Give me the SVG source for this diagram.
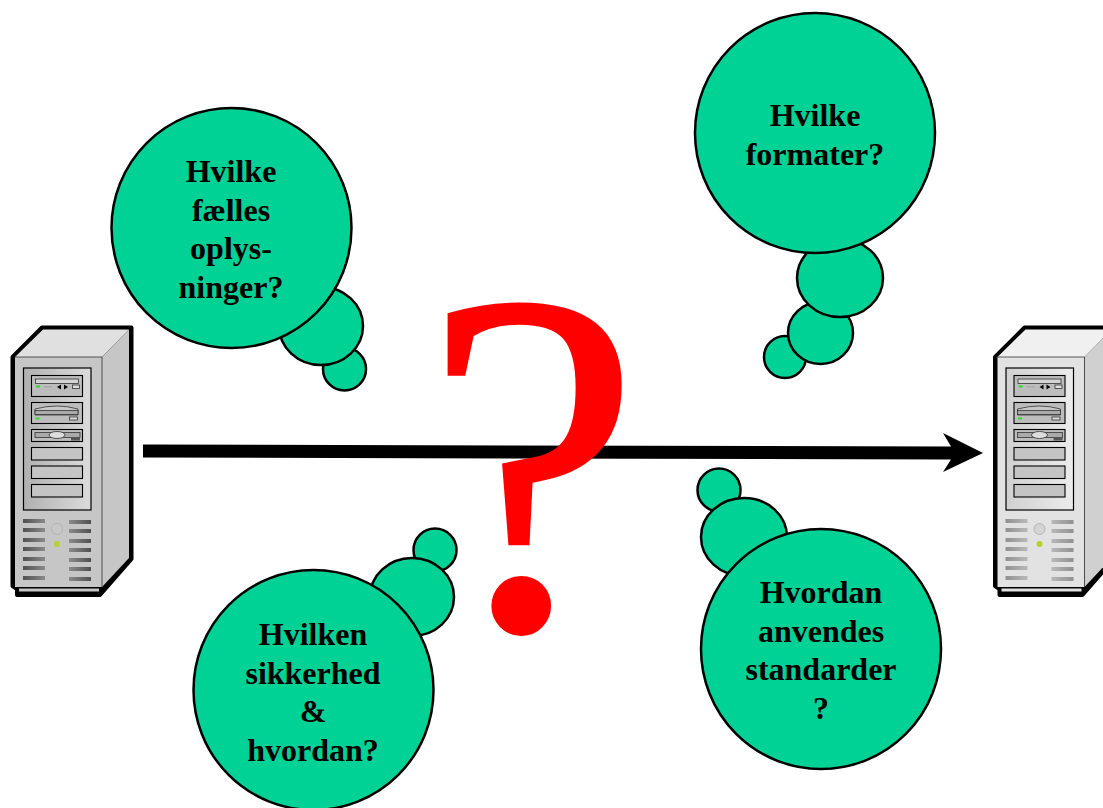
<svg xmlns="http://www.w3.org/2000/svg" width="1103" height="808" viewBox="0 0 1103 808">
<style>
.b{fill:#00d296;stroke:#000;stroke-width:2.5}
.t{font-family:"Liberation Serif","Times New Roman",serif;font-weight:bold;font-size:32px;fill:#000;text-anchor:middle}
.l{stroke:#000;stroke-width:1.1}
.s{stroke:#333;stroke-width:.8}
.v{opacity:var(--vent)}
</style>
<defs>
<linearGradient id="bezL" x1="0" x2="1" y1="0" y2="0"><stop offset="0" stop-color="#b0b0b0"/><stop offset="1" stop-color="#dcdcdc"/></linearGradient>
<linearGradient id="bezR" x1="0" x2="1" y1="0" y2="0"><stop offset="0" stop-color="#d0d0d0"/><stop offset="1" stop-color="#ececec"/></linearGradient>
<linearGradient id="vl" x1="0" x2="1" y1="0" y2="0"><stop offset="0" stop-color="#000" stop-opacity=".6"/><stop offset="1" stop-color="#000" stop-opacity=".3"/></linearGradient>
<linearGradient id="vr" x1="0" x2="1" y1="0" y2="0"><stop offset="0" stop-color="#000" stop-opacity=".3"/><stop offset="1" stop-color="#000" stop-opacity=".6"/></linearGradient>
<symbol id="server" overflow="visible" width="125" height="275" viewBox="0 0 125 275">
<g transform="translate(0,-325)">
<path d="M12.500 357L42 327.500H131.500V559L100 595H17V589L12.500 586Z" fill="#000" stroke="#000" stroke-width="4" stroke-linejoin="round"/>
<path d="M15 357L43 329.500H129L102 357Z" style="fill:var(--top)"/>
<path d="M102 357L129 329.500V558L102 587Z" style="fill:var(--side)"/>
<rect x="15" y="357" width="87" height="230" style="fill:var(--face)"/>
<path d="M15 357H102V587" fill="none" stroke="#333" stroke-width=".8"/>
<rect x="19" y="588.500" width="80" height="3" style="fill:var(--face)"/>
<rect x="23.500" y="368" width="67.500" height="142" style="fill:var(--bez)" stroke="#000" stroke-width="1.200"/>
<rect x="31.500" y="375.500" width="51" height="21" fill="#bdbdbd" class="l"/>
<rect x="35.500" y="379" width="43" height="4.500" fill="#d4d4d4" class="s"/>
<rect x="36" y="385.500" width="4" height="2" fill="#22e022"/>
<rect x="44" y="386" width="8" height="1.500" fill="#aaa"/>
<path d="M57 387L61 384.500V389.500ZM68 387L64 384.500V389.500Z" fill="#000"/>
<rect x="72.500" y="385" width="7" height="3.500" fill="#ddd" class="s"/>
<rect x="31.500" y="402.500" width="51" height="21" fill="#bdbdbd" class="l"/>
<path d="M35 409Q57 403 78 409V415H35Z" fill="#c8c8c8" class="s"/>
<rect x="35" y="410.500" width="43" height="4" fill="#aaa" class="s"/>
<rect x="35.500" y="417.500" width="4" height="2" fill="#22e022"/>
<rect x="69.500" y="417" width="8" height="3" fill="#ddd" class="s"/>
<rect x="31.500" y="429.500" width="51" height="12" fill="#bdbdbd" class="l"/>
<rect x="35" y="432.500" width="45" height="5" fill="#aaa" class="s"/>
<ellipse cx="57" cy="435" rx="8" ry="3.500" fill="#ddd" class="s"/>
<rect x="71" y="437" width="9" height="3.500" fill="#555"/>
<rect x="31.500" y="447.500" width="51" height="12.500" fill="#c4c4c4" class="l"/>
<rect x="31.500" y="466" width="51" height="12.500" fill="#c4c4c4" class="l"/>
<rect x="31.500" y="484.500" width="51" height="12.500" fill="#c4c4c4" class="l"/>
<g class="v" fill="url(#vl)">
<rect x="23" y="519" width="22" height="4"/><rect x="23" y="528" width="22" height="4"/><rect x="23" y="538" width="22" height="4"/><rect x="23" y="547" width="22" height="4"/><rect x="23" y="557" width="22" height="4"/><rect x="23" y="566" width="22" height="4"/><rect x="23" y="576" width="22" height="4"/>
</g>
<g class="v" fill="url(#vr)">
<rect x="69" y="520" width="22" height="4"/><rect x="69" y="529" width="22" height="4"/><rect x="69" y="539" width="22" height="4"/><rect x="69" y="548" width="22" height="4"/><rect x="69" y="558" width="22" height="4"/><rect x="69" y="567" width="22" height="4"/><rect x="69" y="577" width="22" height="4"/>
</g>
<circle cx="57" cy="529" r="5.500" style="fill:var(--knob)" stroke="#b4b4b4" stroke-width="1"/>
<circle cx="57" cy="544" r="3" fill="#b4d232"/>
</g>
</symbol>
</defs>
<g id="server-left" style="--top:#e0e0e0;--side:#c6c6c6;--face:#c6c6c6;--bez:url(#bezL);--vent:1;--knob:#c8c8c8"><use href="#server" x="0" y="325"/></g>
<g id="server-right" style="--top:#f0f0f0;--side:#d0d0d0;--face:#e2e2e2;--bez:url(#bezR);--vent:.6;--knob:#d4d4d4"><use href="#server" x="982.500" y="325"/></g>
<g id="connectors"><polygon points="143,444.500 143,457.500 951,459.500 943,472 983,453 943,433 951,446.500" fill="#000"/></g>
<g id="question"><text x="532" y="628" font-family="Liberation Serif,Times New Roman,serif" font-size="490" text-anchor="middle" fill="#f00" stroke="#f00" stroke-width="2">?</text></g>
<g id="bubble-faelles">
<circle class="b" cx="344.500" cy="369" r="21.500"/><ellipse class="b" cx="321" cy="326" rx="42" ry="39"/><circle class="b" cx="231.500" cy="228" r="120"/>
<text class="t"><tspan x="231" y="182">Hvilke</tspan><tspan x="231" y="220.500">fælles</tspan><tspan x="231" y="259">oplys-</tspan><tspan x="231" y="297.500">ninger?</tspan></text>
</g>
<g id="bubble-formater">
<circle class="b" cx="785" cy="357" r="21"/><ellipse class="b" cx="820.500" cy="333" rx="32.500" ry="31"/><ellipse class="b" cx="840" cy="278" rx="43" ry="39"/><circle class="b" cx="815" cy="133" r="120"/>
<text class="t"><tspan x="815" y="126">Hvilke</tspan><tspan x="815" y="164.500">formater?</tspan></text>
</g>
<g id="bubble-sikkerhed">
<circle class="b" cx="435" cy="550" r="21.500"/><ellipse class="b" cx="412" cy="597" rx="42" ry="39"/><circle class="b" cx="313.500" cy="690" r="120"/>
<text class="t"><tspan x="313" y="645">Hvilken</tspan><tspan x="313" y="683.500">sikkerhed</tspan><tspan x="313" y="722">&amp;</tspan><tspan x="313" y="760.500">hvordan?</tspan></text>
</g>
<g id="bubble-standarder">
<circle class="b" cx="719" cy="490" r="21.500"/><ellipse class="b" cx="744" cy="537" rx="43" ry="39"/><circle class="b" cx="821" cy="649" r="120"/>
<text class="t"><tspan x="821" y="603">Hvordan</tspan><tspan x="821" y="641.500">anvendes</tspan><tspan x="821" y="680">standarder</tspan><tspan x="821" y="718.500">?</tspan></text>
</g>
</svg>
